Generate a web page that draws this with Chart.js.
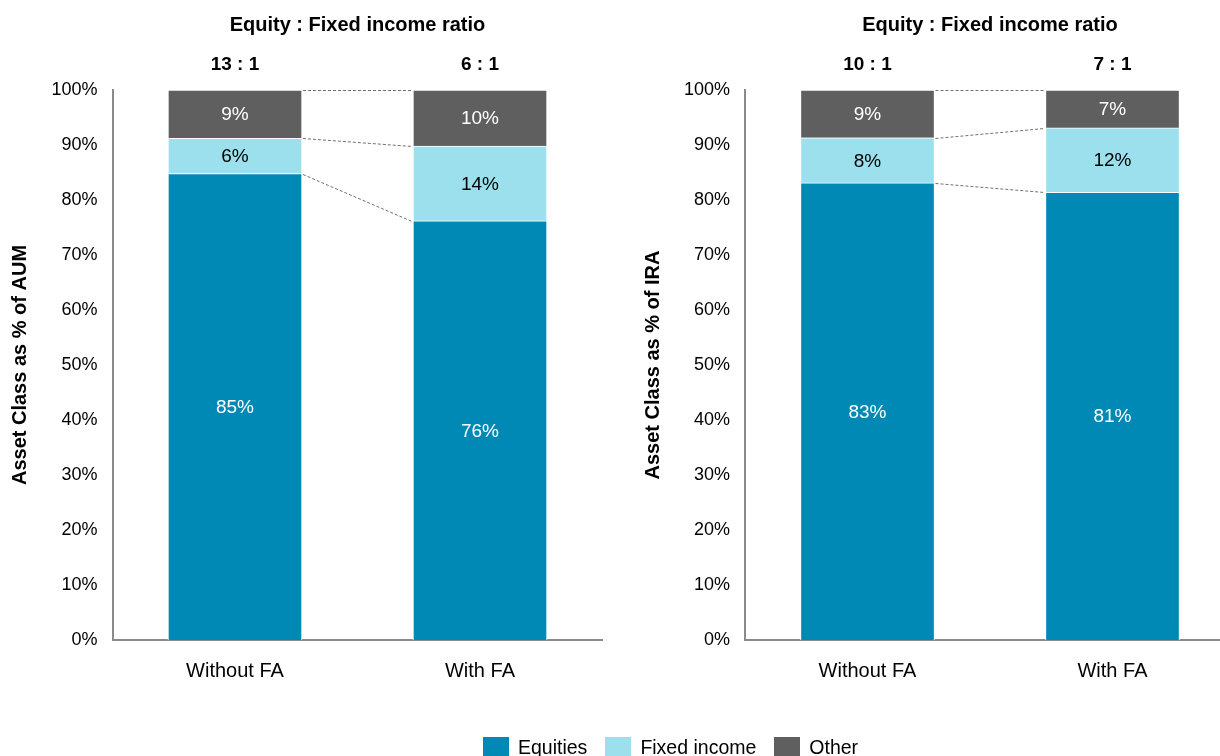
<!DOCTYPE html>
<html><head><meta charset="utf-8">
<script src="https://cdn.jsdelivr.net/npm/chart.js@4.4.0/dist/chart.umd.min.js"></script>
<style>
html,body{margin:0;padding:0;width:1220px;height:756px;overflow:hidden;background:#fff;font-family:"Liberation Sans",Arial,sans-serif;}
.box{position:absolute;top:0;height:756px;}
#c1wrap{left:0;width:610px;}
#c2wrap{left:610px;width:630px;}
#legend{position:absolute;top:737px;left:483px;display:flex;align-items:center;font-size:19.5px;color:#000;white-space:nowrap;line-height:20px}
.sw{width:26px;height:20px;display:inline-block;margin-right:9px}
.item{display:flex;align-items:center;margin-right:18px}
</style></head><body>
<div class="box" id="c1wrap"><canvas id="c1" width="610" height="756"></canvas></div>
<div class="box" id="c2wrap"><canvas id="c2" width="630" height="756"></canvas></div>
<div id="legend"></div>
<script>
const categories = ['Without FA', 'With FA'];
const seriesNames = ['Equities', 'Fixed income', 'Other'];
const aumEquities = [84.8, 76.2];
const aumFixedIncome = [6.4, 13.6];
const aumOther = [8.8, 10.2];
const iraEquities = [83.1, 81.4];
const iraFixedIncome = [8.2, 11.7];
const iraOther = [8.7, 6.9];
const aumRatios = ['13 : 1', '6 : 1'];
const iraRatios = ['10 : 1', '7 : 1'];
const chartTitle = 'Equity : Fixed income ratio';
const aumAxisTitle = 'Asset Class as % of AUM';
const iraAxisTitle = 'Asset Class as % of IRA';
const colors = ['#0089B4', '#9DE0ED', '#5F5F5F'];
const labelColors = ['#ffffff', '#000000', '#ffffff'];
const FONT = '"Liberation Sans", Arial, sans-serif';

const overlay = {
  id: 'overlay',
  afterDatasetsDraw(chart, args, opts) {
    const ctx = chart.ctx;
    const xs = chart.scales.x, ys = chart.scales.y;
    const ds = chart.data.datasets;
    const metas = ds.map((d, i) => chart.getDatasetMeta(i));
    const n = chart.data.labels.length;
    ctx.save();
    ctx.strokeStyle = '#707070';
    ctx.lineWidth = 1;
    ctx.setLineDash([3, 2]);
    for (let c = 0; c < n - 1; c++) {
      let cumA = 0, cumB = 0;
      for (let s = 0; s < ds.length; s++) {
        cumA += ds[s].data[c];
        cumB += ds[s].data[c + 1];
        const eA = metas[s].data[c], eB = metas[s].data[c + 1];
        const xa = eA.x + eA.width / 2 + 1, xb = eB.x - eB.width / 2 - 1;
        ctx.beginPath();
        ctx.moveTo(xa, Math.round(ys.getPixelForValue(Math.min(cumA, 100))) + 0.5);
        ctx.lineTo(xb, Math.round(ys.getPixelForValue(Math.min(cumB, 100))) + 0.5);
        ctx.stroke();
      }
    }
    ctx.setLineDash([]);
    ctx.textAlign = 'center';
    ctx.textBaseline = 'middle';
    ctx.font = '19px ' + FONT;
    ds.forEach((d, s) => {
      metas[s].data.forEach((el, c) => {
        ctx.fillStyle = labelColors[s];
        ctx.fillText(Math.round(d.data[c]) + '%', el.x, (el.y + el.base) / 2 + 1);
      });
    });
    ctx.fillStyle = '#000';
    ctx.font = 'bold 20px ' + FONT;
    ctx.fillText(opts.title, (chart.chartArea.left + chart.chartArea.right) / 2, 25);
    ctx.font = 'bold 19px ' + FONT;
    opts.ratios.forEach((r, c) => ctx.fillText(r, xs.getPixelForValue(c), 65));
    ctx.restore();
  }
};

function makeChart(id, eq, fi, ot, ratios, axisTitle, axisWidth, titlePad, rightPad) {
  const series = [eq, fi, ot];
  return new Chart(document.getElementById(id), {
    type: 'bar',
    data: {
      labels: categories,
      datasets: series.map((vals, i) => ({
        label: seriesNames[i],
        data: vals,
        backgroundColor: colors[i],
        borderColor: '#ffffff',
        borderWidth: 1,
        barThickness: 134
      }))
    },
    options: {
      responsive: false,
      animation: false,
      devicePixelRatio: 1,
      layout: { padding: { top: 90, bottom: 56, left: 0, right: rightPad } },
      plugins: {
        legend: { display: false },
        tooltip: { enabled: false },
        overlay: { title: chartTitle, ratios: ratios }
      },
      scales: {
        x: {
          stacked: true,
          grid: { display: false, drawTicks: false },
          border: { display: true, color: '#8a8a8a', width: 2 },
          ticks: { color: '#000', font: { family: FONT, size: 20 }, padding: 19 },
          afterFit(s) { s.height = 60; }
        },
        y: {
          stacked: true,
          min: 0, max: 100,
          grid: { display: false, drawTicks: false },
          border: { display: true, color: '#8a8a8a', width: 2 },
          ticks: { stepSize: 10, color: '#000', font: { family: FONT, size: 18 }, padding: 15,
                   callback: v => v + '%' },
          title: { display: true, text: axisTitle, color: '#000',
                   font: { family: FONT, size: 20, weight: 'bold' }, padding: { top: titlePad, bottom: 0 } },
          afterFit(s) { s.width = axisWidth; }
        }
      }
    },
    plugins: [overlay]
  });
}

makeChart('c1', aumEquities, aumFixedIncome, aumOther, aumRatios, aumAxisTitle, 112.5, 8.5, 7.5);
makeChart('c2', iraEquities, iraFixedIncome, iraOther, iraRatios, iraAxisTitle, 135, 31, 5);

const lg = document.getElementById('legend');
seriesNames.forEach((name, i) => {
  const it = document.createElement('div');
  it.className = 'item';
  const sw = document.createElement('span');
  sw.className = 'sw';
  sw.style.background = colors[i];
  const tx = document.createElement('span');
  tx.textContent = name;
  it.appendChild(sw); it.appendChild(tx);
  lg.appendChild(it);
});
</script>
</body></html>
